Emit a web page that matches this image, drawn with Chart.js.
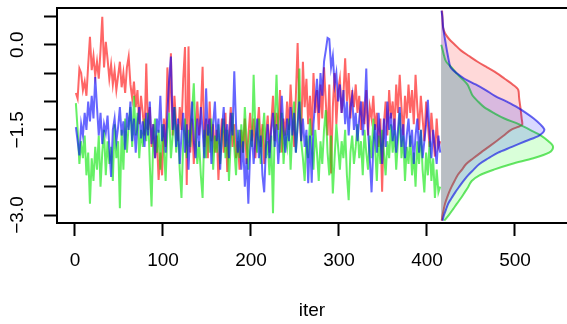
<!DOCTYPE html>
<html>
<head>
<meta charset="utf-8">
<script src="https://cdn.jsdelivr.net/npm/chart.js@4/dist/chart.umd.min.js"></script>
<style>
  html, body { margin: 0; padding: 0; background: #fff; }
  #wrap { width: 567px; height: 324px; }
</style>
</head>
<body>
<div id="wrap"><canvas id="trace"></canvas></div>
<script>
// iterações (cada 2ª iteração, 1..415)
const iters = [];
for (let i = 1; i <= 415; i += 2) iters.push(i);

// cadeias
const chainRed = [
  -0.85, -0.95, -0.42, -0.5, -0.8, -0.65, -0.9, -0.35, 0.14, -0.45,
  -0.2, -0.55, -0.3, -0.6, -0.1, 0.49, -0.4, 0.05, -0.25, -0.6,
  -0.35, -0.7, -0.45, -0.8, -0.55, -0.3, -0.75, -0.5, -0.85, -0.4,
  -0.21, -0.7, -0.95, -0.65, -1.1, -0.8, -1.4, -0.9, -1.2, -1.6,
  -0.33, -1.5, -1.1, -1.8, -1.4, -2.0, -1.6, -2.38, -1.9, -2.3,
  -1.3, -1.8, -0.4, -1.2, -0.15, -1.6, -0.9, -1.4, -1.7, -1.1,
  -1.5, -0.6, -0.04, -2.47, -0.03, -1.9, -1.3, -2.1, -1.5, -1.0,
  -1.6, -1.2, -0.39, -1.8, -1.3, -2.0, -1.0, -1.7, -1.4, -1.9,
  -1.5, -2.38, -1.7, -1.3, -1.9, -1.2, -2.24, -1.6, -1.1, -1.8,
  -1.4, -2.0, -1.7, -2.2, -1.5, -1.9, -1.3, -2.1, -1.6, -1.2,
  -1.7, -1.3, -2.0, -1.5, -1.1, -1.8, -1.4, -2.1, -1.6, -1.25,
  -1.9, -1.4, -0.9, -1.7, -1.2, -1.5, -0.8, -1.9, -1.3, -1.6,
  -1.0, -1.5, -0.7, -1.3, -1.8, -0.9, 0.03, -1.2, -1.7, -0.3,
  -1.1, -0.6, -1.4, -0.9, -1.6, -0.5, -1.2, -0.8, -1.5, -0.7,
  -1.3, -0.4, -1.0, -1.6, -0.7, -2.27, -1.1, -0.5, -1.4, -0.8,
  -0.6, -1.2, -0.9, -0.24, -1.0, -0.5, -1.3, -0.8, -1.1, -0.7,
  -1.2, -0.9, -1.5, -1.0, -1.4, -0.8, -1.6, -1.1, -1.3, -0.9,
  -1.5, -1.2, -1.8, -1.3, -2.59, -1.4, -1.0, -1.6, -0.8, -1.3,
  -1.0, -1.5, -0.7, -1.2, -0.53, -1.1, -1.6, -0.9, -1.3, -0.7,
  -1.2, -0.8, -1.4, -0.53, -1.1, -1.5, -0.9, -1.3, -1.7, -1.0,
  -1.4, -1.8, -1.2, -1.6, -1.97, -1.3, -1.8, -1.7
];
const chainGreen = [
  -1.03, -1.5, -2.1, -1.7, -2.0, -1.6, -2.3, -1.9, -2.8, -2.0,
  -2.4, -1.8, -2.2, -1.6, -2.5, -1.9, -1.5, -2.3, -1.7, -2.1,
  -1.8, -2.4, -1.4, -2.0, -1.7, -2.88, -1.5, -2.2, -1.3, -1.9,
  -1.4, -1.1, -1.8, -0.9, -1.6, -1.2, -2.0, -1.5, -1.8, -1.3,
  -1.7, -1.2, -2.1, -2.85, -1.6, -1.3, -1.9, -1.5, -2.2, -1.4,
  -1.8, -2.4, -1.5, -1.2, -2.0, -1.6, -1.1, -1.9, -1.4, -2.2,
  -2.7, -1.7, -1.3, -2.0, -1.5, -1.8, -1.2, -0.68, -1.6, -2.1,
  -1.7, -2.3, -2.7, -1.5, -2.0, -1.4, -1.9, -1.3, -2.2, -1.6,
  -1.9, -1.4, -2.1, -1.6, -1.3, -2.0, -1.5, -2.4, -1.7, -1.2,
  -1.8, -2.3, -1.5, -2.0, -1.4, -1.9, -1.1, -1.7, -2.2, -1.5,
  -1.8, -0.53, -1.5, -1.9, -1.3, -2.1, -1.6, -1.2, -2.0, -1.7,
  -2.3, -1.6, -2.97, -1.4, -0.53, -1.5, -1.9, -1.2, -2.1, -1.6,
  -1.8, -1.3, -2.2, -1.5, -1.0, -1.9, -1.4, -0.42, -1.7, -2.0,
  -2.4, -1.6, -2.0, -1.3, -1.8, -2.2, -1.5, -1.9, -2.4, -1.7,
  -2.1, -1.5, -1.15, -1.9, -2.3, -1.6, -2.62, -2.0, -1.4, -1.8,
  -2.2, -1.7, -2.0, -1.5, -2.3, -2.74, -1.9, -1.6, -2.1, -1.8,
  -1.4, -2.0, -1.7, -2.3, -1.5, -1.9, -2.2, -1.6, -2.0, -1.3,
  -1.8, -2.4, -1.6, -2.1, -1.5, -1.9, -2.3, -1.7, -2.0, -1.4,
  -1.9, -1.5, -2.2, -1.7, -1.2, -2.0, -1.6, -2.4, -1.8, -2.1,
  -1.6, -2.3, -1.9, -2.5, -1.7, -2.1, -1.5, -2.2, -2.6, -1.9,
  -2.3, -1.7, -2.4, -2.0, -2.7, -2.2, -2.6, -2.5
];
const chainBlue = [
  -1.45, -1.7, -1.95, -1.4, -1.6, -1.2, -1.5, -1.0, -1.35, -0.9,
  -1.3, -0.57, -1.1, -1.6, -1.2, -1.75, -1.4, -1.55, -1.25, -1.8,
  -2.33, -1.5, -1.3, -1.7, -1.45, -1.1, -1.6, -1.35, -1.85, -1.2,
  -1.5, -1.0, -1.7, -1.3, -1.9, -1.4, -1.1, -1.65, -1.35, -1.8,
  -1.2, -1.6, -1.0, -1.75, -1.4, -2.0, -1.3, -1.55, -0.9, -1.7,
  -1.4, -1.9, -1.2, -0.6, -0.21, -1.5, -1.1, -1.8, -1.3, -2.1,
  -1.6, -1.2, -1.9, -1.4, -2.2, -1.5, -1.0, -1.7, -2.0, -1.3,
  -1.8, -1.1, -1.5, -2.0, -0.77, -1.6, -1.3, -2.1, -1.4, -1.0,
  -1.7, -1.3, -2.2, -1.5, -1.1, -1.8, -1.4, -2.0, -1.2, -1.6,
  -0.47, -1.4, -1.9, -1.5, -2.2, -1.7, -2.5, -2.0, -2.8, -1.9,
  -1.5, -2.1, -1.7, -1.3, -2.0, -1.6, -2.3, -2.6, -1.8, -1.4,
  -2.0, -1.5, -1.2, -1.8, -1.4, -2.1, -1.6, -0.9, -1.5, -1.9,
  -1.3, -1.7, -1.1, -1.6, -1.2, -1.9, -1.4, -1.0, -1.7, -1.3,
  -1.8, -1.5, -2.44, -1.6, -2.43, -1.4, -1.0, -0.6, -1.2, -0.5,
  -0.9, -0.3, -0.1, 0.12, 0.1, -0.4, -0.2, -0.7, -0.5, -1.0,
  -0.7, -1.2, -0.8, -1.4, -1.0, -1.6, -1.1, -0.9, -1.5, -1.2,
  -1.7, -1.3, -1.0, -1.6, -1.2, -0.42, -1.5, -2.0, -2.6, -1.8,
  -1.4, -1.9, -1.2, -1.6, -2.1, -1.3, -1.8, -1.0, -1.5, -1.2,
  -1.7, -1.3, -1.9, -1.5, -1.1, -1.8, -1.4, -2.0, -1.6, -1.3,
  -1.8, -1.5, -2.1, -1.6, -1.3, -1.9, -1.5, -2.0, -1.7, -1.4,
  -0.97, -1.6, -2.0, -1.5, -1.8, -2.1, -1.6, -1.9
];

// densidades marginais (níveis no eixo y, larguras a partir da base)
const densBase = 416;
const densLevels = [
  0.6, 0.5, 0.4, 0.3, 0.2, 0.1, 0.0, -0.1, -0.2, -0.3,
  -0.4, -0.5, -0.6, -0.7, -0.8, -0.9, -1.0, -1.1, -1.2, -1.3,
  -1.4, -1.5, -1.6, -1.7, -1.8, -1.9, -2.0, -2.1, -2.2, -2.3,
  -2.4, -2.5, -2.6, -2.7, -2.8, -2.9, -3.0, -3.1
];
const densRed = [
  1.1, 1.5, 1.8, 2.3, 4.5, 9.1, 15.7, 22.5, 31.8, 41.5,
  52.3, 63.3, 72.3, 81.3, 87.8, 88.5, 89.2, 90.1, 90.9, 91.6,
  92.4, 79.5, 71.3, 62.8, 54.1, 45.2, 36.7, 28.6, 23.8, 18.8,
  15.3, 12.0, 9.1, 6.7, 4.5, 3.0, 1.7, 0.7
];
const densGreen = [
  null, null, null, null, null, null, 0.2, 1.9, 3.5, 5.9,
  11.9, 17.3, 23.9, 29.9, 33.0, 36.0, 42.0, 48.9, 59.7, 72.0,
  88.2, 101.1, 113.6, 122.0, 127.3, 122.7, 104.9, 80.1, 60.0, 43.6,
  34.8, 31.0, 26.9, 22.7, 18.0, 13.5, 8.8, 3.6
];
const densBlue = [
  0.5, 1.4, 1.9, 2.4, 3.3, 4.4, 5.5, 6.6, 7.8, 9.1,
  10.9, 17.6, 26.6, 39.3, 50.7, 61.1, 74.1, 86.3, 96.4, 105.3,
  112.5, 117.4, 111.4, 95.8, 80.5, 64.8, 53.8, 43.6, 37.0, 30.6,
  25.5, 20.7, 16.1, 12.0, 8.1, 5.7, 3.3, 1.7
];

const xTicks = [0, 100, 200, 300, 400, 500];
const yTickLabels = { "0": "0.0", "-1.5": "\u22121.5", "-3": "\u22123.0" };

const FONT = { family: "'Liberation Sans', Arial, Helvetica, sans-serif", size: 19 };

function traceSet(vals, color) {
  return {
    type: 'line',
    data: iters.map((x, i) => ({ x: x, y: vals[i] })),
    borderColor: color,
    borderWidth: 2,
    pointRadius: 0,
    fill: false,
    tension: 0
  };
}

function densSet(widths, line, fillCol) {
  const pts = [];
  densLevels.forEach((y, i) => {
    if (widths[i] !== null) pts.push({ x: densBase + widths[i], y: y });
  });
  return {
    type: 'line',
    indexAxis: 'y',
    data: pts,
    borderColor: line,
    backgroundColor: fillCol,
    borderWidth: 2,
    pointRadius: 0,
    cubicInterpolationMode: 'monotone',
    fill: { value: densBase }
  };
}

// caixa à volta da área do gráfico (estilo R)
const boxPlugin = {
  id: 'box',
  afterDraw(chart) {
    const a = chart.chartArea;
    const ctx = chart.ctx;
    ctx.save();
    ctx.strokeStyle = '#000';
    ctx.lineWidth = 2;
    ctx.strokeRect(a.left, a.top, a.right - a.left + 10, a.bottom - a.top);
    ctx.restore();
  }
};

// o Chart.js desenha o índice 0 por cima: azul à frente, vermelho atrás
const ctx = document.getElementById('trace').getContext('2d');
new Chart(ctx, {
  type: 'line',
  data: {
    datasets: [
      traceSet(chainBlue, 'rgba(0,0,255,0.6)'),
      traceSet(chainGreen, 'rgba(0,230,0,0.6)'),
      traceSet(chainRed, 'rgba(255,0,0,0.6)'),
      densSet(densBlue, 'rgba(0,0,230,0.6)', 'rgba(0,0,255,0.15)'),
      densSet(densGreen, 'rgba(0,210,0,0.6)', 'rgba(0,255,0,0.15)'),
      densSet(densRed, 'rgba(230,0,0,0.6)', 'rgba(255,0,0,0.15)')
    ]
  },
  options: {
    responsive: true,
    maintainAspectRatio: false,
    devicePixelRatio: 1,
    animation: false,
    layout: { padding: { top: 8, right: 0, bottom: 0, left: 0 } },
    plugins: { legend: { display: false }, tooltip: { enabled: false } },
    scales: {
      x: {
        type: 'linear',
        min: -20.45,
        max: 559.1,
        afterFit: (s) => { s.height = 101; s.paddingLeft = 0; s.paddingRight = 0; },
        afterBuildTicks: (s) => { s.ticks = xTicks.map(v => ({ value: v })); },
        ticks: {
          color: '#000', font: FONT, padding: 13, autoSkip: false,
          maxRotation: 0, callback: (v) => String(v)
        },
        grid: { drawOnChartArea: false, tickLength: 13, tickWidth: 2, tickColor: '#000' },
        border: { display: false },
        title: { display: true, text: 'iter', color: '#000', font: FONT, padding: { top: 0, bottom: 2 } }
      },
      y: {
        type: 'linear',
        min: -3.14,
        max: 0.646,
        afterFit: (s) => { s.width = 57; s.paddingTop = 0; s.paddingBottom = 0; },
        ticks: {
          stepSize: 0.5, includeBounds: false, autoSkip: false,
          color: '#000', font: FONT, padding: 7,
          minRotation: 90, maxRotation: 90, crossAlign: 'center',
          callback: (v) => {
            const k = String(Math.round(v * 10) / 10);
            return yTickLabels[k] !== undefined ? yTickLabels[k] : '';
          }
        },
        grid: { drawOnChartArea: false, tickLength: 13, tickWidth: 2, tickColor: '#000' },
        border: { display: false }
      }
    }
  },
  plugins: [boxPlugin]
});
</script>
</body>
</html>
